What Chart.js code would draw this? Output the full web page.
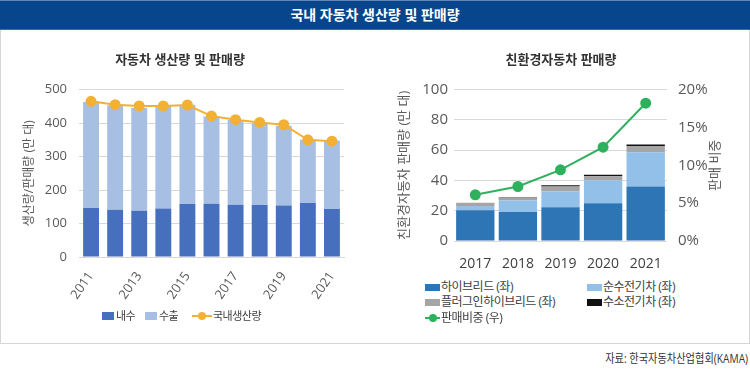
<!DOCTYPE html>
<html>
<head>
<meta charset="utf-8">
<script src="https://cdn.jsdelivr.net/npm/chart.js@4"></script>
<style>
body { margin:0; width:750px; height:374px; background:#fff; position:relative; overflow:hidden;
  font-family:'Open Sans','Noto Sans CJK KR',sans-serif; }
#header { position:absolute; left:0; top:0; width:750px; height:30px; background:#07468C;
  border-top:1px solid #6186b3; border-bottom:1px solid #3d6aa3; box-sizing:border-box;
  color:#fff; text-align:center; line-height:28px; font-size:14px; font-weight:bold; }
#panel { position:absolute; left:0; top:30px; width:750px; height:314px; border:1px solid #d6d6d6;
  border-top:none; box-sizing:border-box; }
canvas { position:absolute; }
#c1 { left:0; top:30px; }
#c2 { left:370px; top:30px; }
.lg { position:absolute; height:16px; line-height:16px; color:#404040; white-space:nowrap;
  display:flex; align-items:center; letter-spacing:-0.5px; }
.l1 { font-size:11px; }
.l2 { font-size:12px; }
.sw { display:inline-block; width:12px; height:8px; margin-right:2px; }
.l2 .sw { width:15px; height:7px; margin-right:1px; }
.ln { display:inline-block; position:relative; width:20px; height:2px; margin-right:1px; }
.ln i { position:absolute; left:50%; top:50%; width:8px; height:8px; margin:-4px 0 0 -4px; border-radius:50%; }
#src { position:absolute; right:2px; top:349px; font-size:12px; color:#333; white-space:nowrap;
  transform:scaleX(0.85); transform-origin:right center; }
</style>
</head>
<body>
<div id="header">국내 자동차 생산량 및 판매량</div>
<div id="panel"></div>
<canvas id="c1" width="360" height="280"></canvas>
<canvas id="c2" width="370" height="240"></canvas>

<div class="lg l1" style="left:102px;top:308px"><span class="sw" style="background:#4670BD"></span>내수</div>
<div class="lg l1" style="left:145px;top:308px"><span class="sw" style="background:#A7BFE3"></span>수출</div>
<div class="lg l1" style="left:192px;top:308px"><span class="ln" style="background:#F2B134"><i style="background:#F2B134"></i></span>국내생산량</div>

<div class="lg l2" style="left:425px;top:279px"><span class="sw" style="background:#2E75B6"></span>하이브리드 (좌)</div>
<div class="lg l2" style="left:587px;top:279px"><span class="sw" style="background:#93C0E8"></span>순수전기차 (좌)</div>
<div class="lg l2" style="left:425px;top:294px"><span class="sw" style="background:#A5A5A5"></span>플러그인하이브리드 (좌)</div>
<div class="lg l2" style="left:587px;top:294px"><span class="sw" style="background:#111"></span>수소전기차 (좌)</div>
<div class="lg l2" style="left:425px;top:310px"><span class="ln" style="background:#2EB15D;width:15px"><i style="background:#2EB15D"></i></span>판매비중 (우)</div>

<div id="src">자료: 한국자동차산업협회(KAMA)</div>

<script>
// 자동차 생산량 및 판매량 (만 대)
const years = ['2011', '2012', '2013', '2014', '2015', '2016', '2017', '2018', '2019', '2020', '2021'];
const domestic = [146, 141, 138, 145, 158, 159, 156, 155, 154, 161, 143];
const exports = [317, 312, 307, 305, 297, 261, 253, 245, 238, 189, 205];
const production = [465, 455, 451, 451, 454, 421, 410, 402, 395, 350, 346];

// 친환경자동차 판매량 (만 대), 판매비중 (%)
const ecoYears = ['2017', '2018', '2019', '2020', '2021'];
const hybrid = [20.3, 19.2, 22.3, 25.0, 36.0];
const bev = [2.9, 7.5, 10.4, 15.2, 22.7];
const phev = [2.0, 2.0, 3.3, 2.5, 4.0];
const fcev = [0.1, 0.3, 0.8, 1.0, 1.1];
const share = [6.1, 7.2, 9.4, 12.4, 18.2];

const FONT = "'Open Sans','Noto Sans CJK KR',sans-serif";
Chart.defaults.font.family = FONT;
Chart.defaults.color = '#595959';

const gridColor = '#D9D9D9';

// Production chart
const prodData = {
    labels: years,
    datasets: [
        { type: 'line', label: '국내생산량', data: production, borderColor: '#F2B134', backgroundColor: '#F2B134',
          borderWidth: 2, pointRadius: 4.5, order: 0 },
        { type: 'bar', label: '내수', data: domestic, backgroundColor: '#4670BD', stack: 's', order: 1 },
        { type: 'bar', label: '수출', data: exports, backgroundColor: '#A7BFE3', stack: 's', order: 1 }
    ]
};

const prodOptions = {
    responsive: false,
    animation: false,
    devicePixelRatio: 1,
    layout: { padding: { left: 16, right: 16, top: 0, bottom: 0 } },
    datasets: { bar: { barPercentage: 0.66, categoryPercentage: 1 } },
    scales: {
        x: {
            stacked: true,
            grid: { display: false },
            border: { color: gridColor },
            ticks: {
                autoSkip: false, minRotation: 55, maxRotation: 55, padding: 4,
                font: { size: 13 },
                callback: function (v, i) { return i % 2 === 0 ? this.getLabelForValue(v) : ''; }
            },
            afterFit: s => { s.height = 53; }
        },
        y: {
            stacked: true, min: 0, max: 500,
            border: { display: false },
            grid: { color: gridColor, drawTicks: false },
            ticks: { stepSize: 100, padding: 12, font: { size: 13 } },
            title: { display: true, text: '생산량/판매량 (만 대)', font: { size: 12 }, padding: { top: 6, bottom: 0 } },
            afterFit: s => { s.width = 63; }
        }
    },
    plugins: {
        legend: { display: false },
        tooltip: { enabled: false },
        title: { display: true, text: '자동차 생산량 및 판매량', color: '#333', font: { size: 13, weight: 'bold' },
                 padding: { top: 22, bottom: 22 } }
    }
};

new Chart(document.querySelector('#c1'), { data: prodData, options: prodOptions });

// Eco-friendly car chart
const rightTitle = {
    id: 'rightTitle',
    afterDraw(chart) {
        const { ctx, chartArea } = chart;
        const sc = chart.scales.y1;
        ctx.save();
        ctx.translate(sc.right - 25, (chartArea.top + chartArea.bottom) / 2);
        ctx.rotate(-Math.PI / 2);
        ctx.font = '13px ' + FONT;
        ctx.fillStyle = '#595959';
        ctx.textAlign = 'center';
        ctx.textBaseline = 'middle';
        ctx.fillText('판매 비중', 0, 0);
        ctx.restore();
    }
};

const ecoData = {
    labels: ecoYears,
    datasets: [
        { type: 'line', label: '판매비중 (우)', data: share, yAxisID: 'y1', borderColor: '#2EB15D',
          backgroundColor: '#2EB15D', borderWidth: 2, pointRadius: 4.5, order: 0 },
        { type: 'bar', label: '하이브리드 (좌)', data: hybrid, backgroundColor: '#2E75B6', order: 1 },
        { type: 'bar', label: '순수전기차 (좌)', data: bev, backgroundColor: '#93C0E8', order: 1 },
        { type: 'bar', label: '플러그인하이브리드 (좌)', data: phev, backgroundColor: '#A5A5A5', order: 1 },
        { type: 'bar', label: '수소전기차 (좌)', data: fcev, backgroundColor: '#111111', order: 1 }
    ]
};

const ecoOptions = {
    responsive: false,
    animation: false,
    devicePixelRatio: 1,
    layout: { padding: { left: 12, right: 0, top: 0, bottom: 0 } },
    datasets: { bar: { barPercentage: 0.9, categoryPercentage: 1 } },
    scales: {
        x: {
            stacked: true,
            grid: { display: false },
            border: { display: false },
            ticks: { padding: 7, color: '#404040', font: { size: 14 } },
            afterFit: s => { s.height = 29; }
        },
        y: {
            stacked: true, min: 0, max: 100, position: 'left',
            border: { display: false },
            grid: { color: gridColor, drawTicks: false },
            ticks: { stepSize: 20, padding: 6, font: { size: 15 } },
            title: { display: true, text: '친환경자동차 판매량 (만 대)', font: { size: 13 }, padding: { top: 14, bottom: 0 } },
            afterFit: s => { s.width = 72; }
        },
        y1: {
            min: 0, max: 20, position: 'right',
            border: { display: false },
            grid: { drawOnChartArea: false, drawTicks: false },
            ticks: { stepSize: 5, padding: 11, font: { size: 15 }, callback: v => v + '%' },
            afterFit: s => { s.width = 73; }
        }
    },
    plugins: {
        legend: { display: false },
        tooltip: { enabled: false },
        title: { display: true, text: '친환경자동차 판매량', color: '#333', font: { size: 13, weight: 'bold' },
                 padding: { top: 22, bottom: 22 } }
    }
};

new Chart(document.querySelector('#c2'), { data: ecoData, options: ecoOptions, plugins: [rightTitle] });
</script>
</body>
</html>
